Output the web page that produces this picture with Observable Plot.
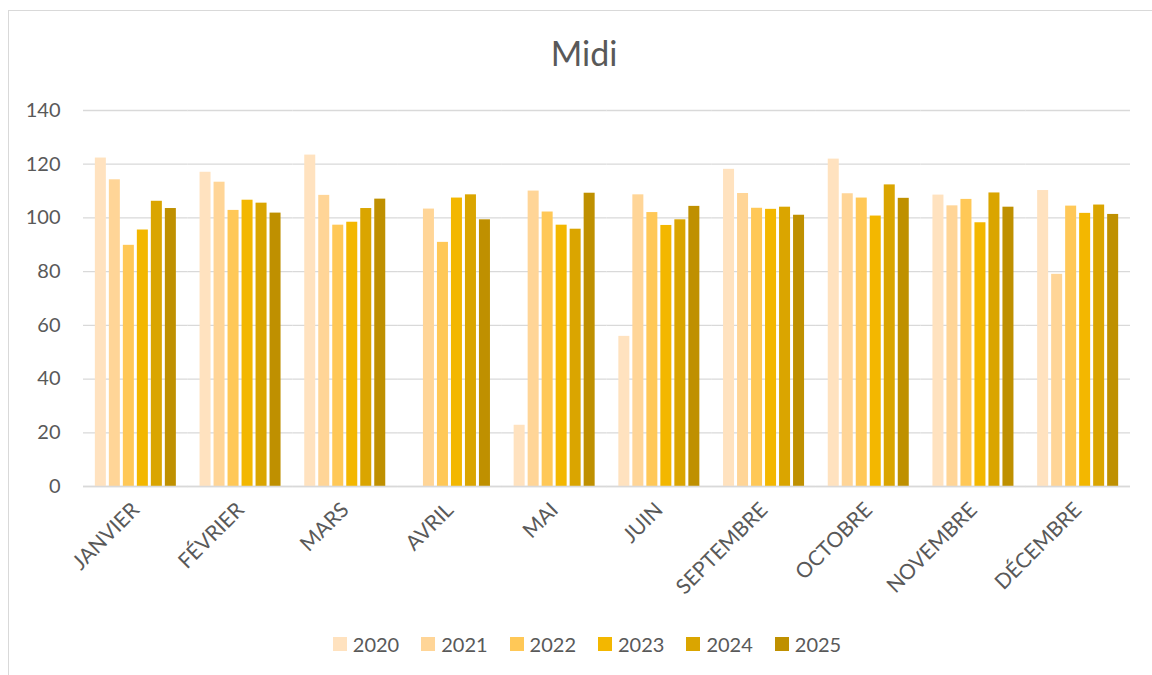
<!DOCTYPE html>
<html>
<head>
<meta charset="utf-8">
<script src="https://cdn.jsdelivr.net/npm/d3@7"></script>
<script src="https://cdn.jsdelivr.net/npm/@observablehq/plot@0.6"></script>
<style>
  html, body { margin: 0; padding: 0; background: #fff; }
  body { width: 1152px; height: 675px; overflow: hidden; position: relative; font-family: Lato, "Open Sans", sans-serif; }
  #frame { position: absolute; left: 8px; top: 10px; width: 1160px; height: 680px; border: 1px solid #d9d9d9; box-sizing: border-box; }
  #title { position: absolute; left: 0; top: 32px; width: 1168px; text-align: center; font-size: 34px; color: #595959; }
  #chart { position: absolute; left: 0; top: 80px; }
  #legend { position: absolute; left: 0; top: 628px; width: 1174px; height: 32px; display: flex; justify-content: center; align-items: center; gap: 22px; font-size: 20px; color: #595959; }
  #legend .item { display: flex; align-items: center; gap: 6px; }
  #legend .sw { width: 14px; height: 14px; display: inline-block; }
</style>
</head>
<body>
<div id="frame"></div>
<div id="title">Midi</div>
<div id="chart"></div>
<div id="legend"></div>
<script>
const months = ["JANVIER","FÉVRIER","MARS","AVRIL","MAI","JUIN","SEPTEMBRE","OCTOBRE","NOVEMBRE","DÉCEMBRE"];
const years = ["2020","2021","2022","2023","2024","2025"];
const colors = ["#FFE2BF","#FFD597","#FFC857","#F3B700","#DAA500","#BF9000"];
const yTicks = [0,20,40,60,80,100,120,140];

const values2020 = [122.3,117.0,123.4,null,22.8,55.9,118.1,121.9,108.5,110.2];
const values2021 = [114.2,113.3,108.4,103.3,110.0,108.6,109.1,109.0,104.5,79.0];
const values2022 = [89.8,102.8,97.3,90.9,102.2,102.0,103.6,107.4,106.9,104.4];
const values2023 = [95.5,106.6,98.4,107.4,97.3,97.2,103.2,100.7,98.2,101.7];
const values2024 = [106.2,105.5,103.5,108.6,95.8,99.3,104.0,112.3,109.3,104.8];
const values2025 = [103.5,101.8,107.0,99.3,109.2,104.3,101.0,107.3,104.0,101.3];

const series = [values2020, values2021, values2022, values2023, values2024, values2025];
const data = [];
months.forEach((m, i) => {
  years.forEach((y, j) => {
    const v = series[j][i];
    if (v != null) data.push({month: m, year: y, value: v});
  });
});

const chart = Plot.plot({
  width: 1152,
  height: 540,
  marginLeft: 83,
  marginRight: 22,
  marginTop: 30,
  marginBottom: 134,
  style: {fontFamily: "Lato, 'Open Sans', sans-serif", color: "#595959", background: "transparent"},
  fx: {domain: months, padding: 0, round: false, label: null},
  x: {domain: years, paddingInner: 0.214, paddingOuter: 0.846, round: false, axis: null},
  y: {domain: [0, 140], label: null},
  color: {domain: years, range: colors},
  marks: [
    Plot.gridY(yTicks, {stroke: "#d9d9d9", strokeOpacity: 1, strokeWidth: 1.3}),
    Plot.barY(data, {fx: "month", x: "year", y: "value", fill: "year"}),
    Plot.ruleY([0], {stroke: "#d9d9d9", strokeWidth: 1.6}),
    Plot.axisY(yTicks, {tickSize: 0, tickPadding: 23, fontSize: 20, fill: "#595959", label: null}),
    Plot.axisFx({anchor: "bottom", tickRotate: -45, tickSize: 0, tickPadding: 20, fontSize: 21, fill: "#595959", label: null})
  ]
});
document.getElementById("chart").appendChild(chart);

const legend = document.getElementById("legend");
years.forEach((y, j) => {
  const item = document.createElement("div");
  item.className = "item";
  const sw = document.createElement("span");
  sw.className = "sw";
  sw.style.background = colors[j];
  const t = document.createElement("span");
  t.textContent = y;
  item.appendChild(sw);
  item.appendChild(t);
  legend.appendChild(item);
});
</script>
</body>
</html>
